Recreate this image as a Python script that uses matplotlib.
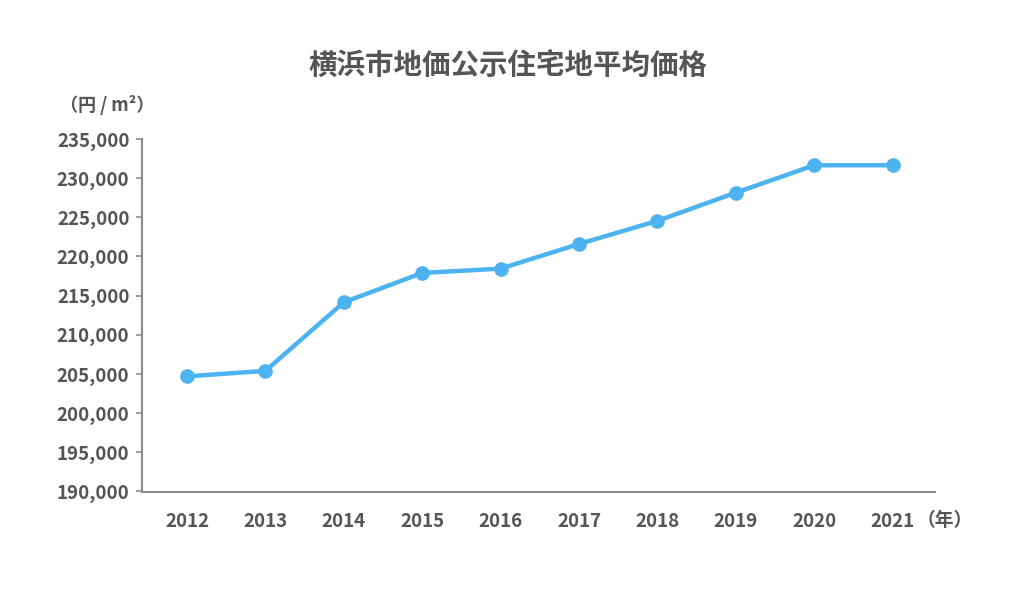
import matplotlib
matplotlib.use("Agg")
import matplotlib.pyplot as plt

plt.rcParams['font.family'] = ['Noto Sans CJK JP', 'DejaVu Sans']

years = ["2012", "2013", "2014", "2015", "2016", "2017", "2018", "2019", "2020", "2021"]
prices = [204700, 205400, 214150, 217900, 218450, 221600, 224550, 228150, 231650, 231650]
yticks = [190000, 195000, 200000, 205000, 210000, 215000, 220000, 225000, 230000, 235000]

title = "横浜市地価公示住宅地平均価格"
unit_y = "（円 / m²）"
unit_x = "（年）"

text_color = "#555555"
line_color = "#4cb2f0"
axis_color = "#8c8c8c"

fig = plt.figure(figsize=(10.24, 5.9), dpi=100)
ax = fig.add_axes([142/1024, 1 - 491.5/590, (935-142)/1024, (491.5-139)/590])

x = list(range(len(years)))
ax.plot(x, prices, color=line_color, linewidth=3.2, marker='o', markersize=9.5,
        solid_joinstyle='round', solid_capstyle='round', zorder=3, clip_on=False)

ax.set_xlim(-0.574, 9.54)
ax.set_ylim(190000, 235000)
ax.set_yticks(yticks)
ax.set_yticklabels([f"{v:,}" for v in yticks])
ax.set_xticks(x)
ax.set_xticklabels(years)

for s in ['top', 'right']:
    ax.spines[s].set_visible(False)
for s in ['left', 'bottom']:
    ax.spines[s].set_color(axis_color)
    ax.spines[s].set_linewidth(1.5)

ax.tick_params(axis='y', length=4, width=1.2, color=axis_color, pad=5,
               labelsize=13.5, labelcolor=text_color)
ax.tick_params(axis='x', length=0, pad=15, labelsize=13.5, labelcolor=text_color)
for lab in ax.get_xticklabels() + ax.get_yticklabels():
    lab.set_fontweight('bold')

fig.text(508/1024, 1 - 66/590, title, ha='center', va='center', fontsize=20.5,
         fontweight='bold', color=text_color)
fig.text(107/1024, 1 - 105/590, unit_y, ha='center', va='center', fontsize=13,
         fontweight='bold', color=text_color)
fig.text(945/1024, 1 - 521/590, unit_x, ha='center', va='center', fontsize=13.5,
         fontweight='bold', color=text_color)

fig.savefig("out.png", dpi=100, facecolor='white')
